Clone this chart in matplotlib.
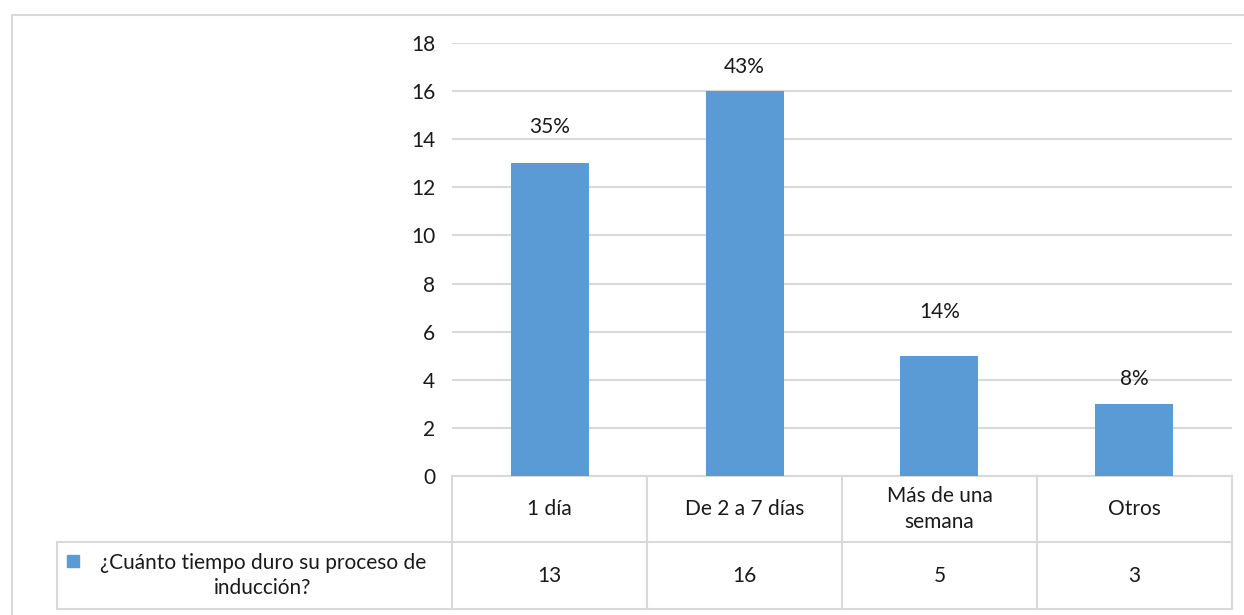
import numpy as np
import matplotlib.pyplot as plt
import matplotlib.transforms as mtransforms
from matplotlib.patches import Rectangle

# datos de la encuesta
categorias = ["1 día", "De 2 a 7 días", "Más de una\nsemana", "Otros"]
respuestas = [13, 16, 5, 3]
porcentajes = ["35%", "43%", "14%", "8%"]
serie = "¿Cuánto tiempo duro su proceso de\ninducción?"

# separacion de cada etiqueta sobre su barra (pixeles)
desfase = [36, 24, 44, 25]

azul = "#5b9bd5"
gris = "#d9d9d9"
texto = "#1a1a1a"
fs = 15
plt.rcParams['font.family'] = ['Lato', 'DejaVu Sans']

W, H = 1244, 615
fig = plt.figure(figsize=(W / 100, H / 100), dpi=100)

# marco exterior del grafico
fig.add_artist(Rectangle((12 / W, -0.05), 1.1, 1 - 15 / H + 0.05, transform=fig.transFigure,
                         fill=False, edgecolor=gris, lw=1.5))

x0, x1, ytop, ybot = 452, 1232, 43, 476
ax = fig.add_axes([x0 / W, 1 - ybot / H, (x1 - x0) / W, (ybot - ytop) / H])

x = np.arange(len(categorias))
ax.bar(x, respuestas, width=0.4, color=azul, zorder=3)
for xi, v, p, d in zip(x, respuestas, porcentajes, desfase):
    ax.annotate(p, (xi, v), xytext=(0, d * 0.72), textcoords="offset points",
                ha="center", va="center", fontsize=fs, color=texto)

ax.set_xlim(-0.5, len(categorias) - 0.5)
ax.set_ylim(0, 18)
ax.set_yticks(np.arange(0, 19, 2))
ax.yaxis.grid(True, color=gris, lw=1.5, zorder=0)
ax.set_xticks([])
ax.tick_params(axis="y", length=0, pad=12, labelsize=fs, labelcolor=texto)
for s in ax.spines.values():
    s.set_visible(False)

# tabla de datos debajo del eje
trans = mtransforms.blended_transform_factory(ax.transData, fig.transFigure)
fy = lambda py: 1 - py / H
row1, row2, row3 = 476, 542, 609
lk = dict(color=gris, lw=1.5, transform=trans, clip_on=False)
lf = dict(color=gris, lw=1.5, transform=fig.transFigure, clip_on=False)

for r in (row1, row2, row3):
    ax.plot([-0.5, len(categorias) - 0.5], [fy(r)] * 2, **lk)
for b in np.arange(len(categorias) + 1) - 0.5:
    ax.plot([b, b], [fy(row1), fy(row3)], **lk)

# celda de la leyenda
lx = 57 / W
fig.add_artist(plt.Line2D([lx, x0 / W], [fy(row2)] * 2, **lf))
fig.add_artist(plt.Line2D([lx, x0 / W], [fy(row3)] * 2, **lf))
fig.add_artist(plt.Line2D([lx, lx], [fy(row2), fy(row3)], **lf))

for xi, c, v in zip(x, categorias, respuestas):
    ax.text(xi, fy((row1 + row2) / 2), c, transform=trans, ha="center", va="center",
            fontsize=fs, color=texto, linespacing=1.35)
    ax.text(xi, fy((row2 + row3) / 2), str(v), transform=trans, ha="center", va="center",
            fontsize=fs, color=texto)

fig.add_artist(Rectangle((67 / W, fy(567)), 12 / W, 12 / H, transform=fig.transFigure,
                         color=azul))
fig.text(263 / W, fy((row2 + row3) / 2), serie, ha="center", va="center",
         fontsize=fs, color=texto, linespacing=1.35)

fig.savefig("out.png", dpi=100, facecolor="white")
